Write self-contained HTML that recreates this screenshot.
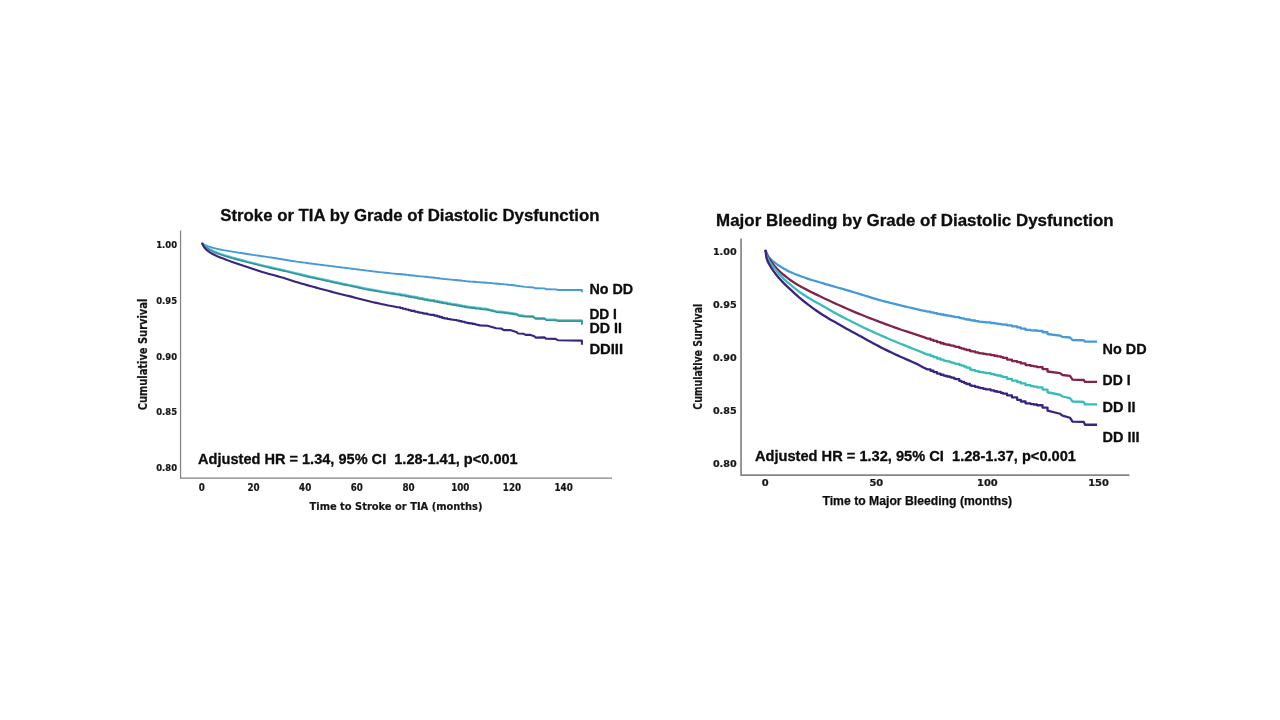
<!DOCTYPE html>
<html lang="en">
<head>
<meta charset="utf-8">
<title>Stroke or TIA and Major Bleeding by Grade of Diastolic Dysfunction</title>
<style>
html,body{margin:0;padding:0;background:#fff;}
body{width:1280px;height:720px;overflow:hidden;font-family:"Liberation Sans",sans-serif;}
svg{display:block;}
</style>
</head>
<body>
<svg width="1280" height="720" viewBox="0 0 1280 720">
<rect width="1280" height="720" fill="#ffffff"/>
<g fill="none" stroke="#828282" stroke-width="1.25">
<path d="M180.55 230.5 V478.05 H612"/>
</g>
<g fill="none" stroke="#868686" stroke-width="1.7">
<path d="M741.05 238.5 V475.05 H1129.5"/>
</g>
<polyline points="202.20,243.30 203.20,244.11 204.20,244.66 205.20,245.09 206.20,245.50 207.20,245.90 208.20,246.28 209.20,246.63 210.20,246.96 211.20,247.27 212.20,247.56 213.20,247.84 214.20,248.10 215.20,248.35 216.20,248.59 217.20,248.82 220.20,249.46 223.20,250.06 226.20,250.62 229.20,251.15 232.20,251.65 235.20,252.13 238.20,252.59 241.20,253.03 244.20,253.48 247.20,253.95 250.20,254.44 253.20,254.92 256.20,255.38 259.20,255.80 262.20,256.21 265.20,256.63 268.20,257.07 271.20,257.51 274.20,257.97 277.20,258.46 280.20,258.98 283.20,259.50 286.20,260.00 289.20,260.49 292.20,260.97 295.20,261.43 298.20,261.85 301.20,262.25 304.20,262.64 307.20,263.05 310.20,263.46 313.20,263.87 316.20,264.25 319.20,264.61 322.20,264.96 325.20,265.33 328.20,265.71 331.20,266.11 334.20,266.50 337.20,266.87 340.20,267.22 343.20,267.58 346.20,267.95 349.20,268.34 352.20,268.73 355.20,269.13 358.20,269.52 361.20,269.91 364.20,270.30 367.20,270.67 370.20,271.04 373.20,271.39 376.20,271.74 379.20,272.07 382.20,272.40 385.20,272.72 388.20,273.04 391.20,273.35 394.20,273.67 397.20,273.98 400.20,273.98 400.20,274.29 402.70,274.29 402.70,274.56 405.70,274.56 405.70,274.88 408.70,274.88 408.70,275.21 411.20,275.21 411.20,275.49 414.70,275.49 414.70,275.87 417.70,275.87 417.70,276.17 419.70,276.17 419.70,276.37 422.70,276.37 422.70,276.67 424.20,276.67 424.20,276.82 427.20,276.82 427.20,277.13 428.70,277.13 428.70,277.30 430.70,277.30 430.70,277.51 434.20,277.51 434.20,277.91 437.20,277.91 437.20,278.26 439.70,278.26 439.70,278.58 442.20,278.58 442.20,278.89 444.20,278.89 444.20,279.12 447.20,279.12 447.20,279.41 450.20,279.41 450.20,279.67 452.20,279.67 452.20,279.84 454.20,279.84 454.20,280.02 456.70,280.02 456.70,280.28 459.20,280.28 459.20,280.56 461.70,280.56 461.70,280.85 464.70,280.85 464.70,281.17 466.70,281.17 466.70,281.35 468.20,281.35 468.20,281.48 469.70,281.48 469.70,281.60 472.20,281.60 472.20,281.79 475.20,281.79 475.20,282.01 476.70,282.01 476.70,282.12 480.20,282.12 480.20,282.36 481.70,282.36 481.70,282.46 485.20,282.46 485.20,282.72 487.20,282.72 487.20,282.88 490.20,282.88 490.20,283.15 492.20,283.15 492.20,283.34 494.20,283.34 494.20,283.53 496.20,283.53 496.20,283.71 499.20,283.71 499.20,283.97 501.20,283.97 501.20,284.15 503.70,284.15 503.70,284.38 507.20,284.38 507.20,284.71 508.70,284.71 508.70,284.86 510.20,284.86 510.20,285.01 512.70,285.01 512.70,285.26 514.70,285.26 514.70,285.47 515.00,285.47 515.00,285.50 525.00,286.90 533.75,287.50 535.60,288.30 544.40,288.40 546.25,289.25 555.60,289.40 558.10,290.00 581.90,290.00 581.90,292.20" fill="none" stroke="#479ad6" stroke-width="1.9" stroke-linejoin="round" stroke-linecap="butt"/>
<polyline points="202.20,242.85 203.20,244.04 204.20,245.00 205.20,245.81 206.20,246.58 207.20,247.32 208.20,248.01 209.20,248.67 210.20,249.27 211.20,249.82 212.20,250.35 213.20,250.84 214.20,251.30 215.20,251.73 216.20,252.15 217.20,252.55 220.20,253.65 223.20,254.67 226.20,255.63 229.20,256.53 232.20,257.37 235.20,258.21 238.20,259.02 241.20,259.81 244.20,260.59 247.20,261.36 250.20,262.11 253.20,262.85 256.20,263.60 259.20,264.36 262.20,265.11 265.20,265.85 268.20,266.57 271.20,267.27 274.20,267.97 277.20,268.64 280.20,269.29 283.20,269.94 286.20,270.63 289.20,271.36 292.20,272.11 295.20,272.85 298.20,273.59 301.20,274.34 304.20,275.06 307.20,275.75 310.20,276.41 313.20,277.06 316.20,277.71 319.20,278.37 322.20,279.03 325.20,279.69 328.20,280.35 331.20,281.01 334.20,281.67 337.20,282.34 340.20,283.01 343.20,283.67 346.20,284.30 349.20,284.89 352.20,285.48 355.20,286.09 358.20,286.75 361.20,287.44 364.20,288.09 367.20,288.67 370.20,289.21 373.20,289.73 376.20,290.27 379.20,290.82 382.20,291.36 385.20,291.88 388.20,292.37 391.20,292.83 394.20,293.31 397.20,293.84 400.20,293.84 400.20,294.40 402.70,294.40 402.70,294.87 405.70,294.87 405.70,295.43 408.70,295.43 408.70,295.98 411.20,295.98 411.20,296.44 414.70,296.44 414.70,297.09 417.70,297.09 417.70,297.66 419.70,297.66 419.70,298.05 422.70,298.05 422.70,298.62 424.20,298.62 424.20,298.90 427.20,298.90 427.20,299.45 428.70,299.45 428.70,299.72 430.70,299.72 430.70,300.07 434.20,300.07 434.20,300.70 437.20,300.70 437.20,301.27 439.70,301.27 439.70,301.75 442.20,301.75 442.20,302.23 444.20,302.23 444.20,302.60 447.20,302.60 447.20,303.13 450.20,303.13 450.20,303.64 452.20,303.64 452.20,303.97 454.20,303.97 454.20,304.31 456.70,304.31 456.70,304.76 459.20,304.76 459.20,305.22 461.70,305.22 461.70,305.69 464.70,305.69 464.70,306.20 466.70,306.20 466.70,306.51 468.20,306.51 468.20,306.74 469.70,306.74 469.70,306.95 472.20,306.95 472.20,307.30 475.20,307.30 475.20,307.67 476.70,307.67 476.70,307.85 480.20,307.85 480.20,308.24 481.70,308.24 481.70,308.40 485.20,308.40 485.20,308.75 487.20,308.75 487.20,308.92 487.50,308.92 487.50,308.95 496.25,311.15 502.50,311.80 510.00,312.75 516.25,313.65 518.75,314.95 525.00,315.65 533.00,316.05 535.60,317.95 544.40,317.95 546.25,319.25 555.60,319.45 558.10,320.15 581.90,320.15 581.90,323.95" fill="none" stroke="#52c6d0" stroke-width="2.0" stroke-linejoin="round" stroke-linecap="butt"/>
<polyline points="202.20,243.75 203.20,244.94 204.20,245.90 205.20,246.71 206.20,247.48 207.20,248.22 208.20,248.91 209.20,249.57 210.20,250.17 211.20,250.72 212.20,251.25 213.20,251.74 214.20,252.20 215.20,252.63 216.20,253.05 217.20,253.45 220.20,254.55 223.20,255.57 226.20,256.53 229.20,257.43 232.20,258.27 235.20,259.11 238.20,259.92 241.20,260.71 244.20,261.49 247.20,262.26 250.20,263.01 253.20,263.75 256.20,264.50 259.20,265.26 262.20,266.01 265.20,266.75 268.20,267.47 271.20,268.17 274.20,268.87 277.20,269.54 280.20,270.19 283.20,270.84 286.20,271.53 289.20,272.26 292.20,273.01 295.20,273.75 298.20,274.49 301.20,275.24 304.20,275.96 307.20,276.65 310.20,277.31 313.20,277.96 316.20,278.61 319.20,279.27 322.20,279.93 325.20,280.59 328.20,281.25 331.20,281.91 334.20,282.57 337.20,283.24 340.20,283.91 343.20,284.57 346.20,285.20 349.20,285.79 352.20,286.38 355.20,286.99 358.20,287.65 361.20,288.34 364.20,288.99 367.20,289.57 370.20,290.11 373.20,290.63 376.20,291.17 379.20,291.72 382.20,292.26 385.20,292.78 388.20,293.27 391.20,293.73 394.20,294.21 397.20,294.74 400.20,294.74 400.20,295.30 402.70,295.30 402.70,295.77 405.70,295.77 405.70,296.33 408.70,296.33 408.70,296.88 411.20,296.88 411.20,297.34 414.70,297.34 414.70,297.99 417.70,297.99 417.70,298.56 419.70,298.56 419.70,298.95 422.70,298.95 422.70,299.52 424.20,299.52 424.20,299.80 427.20,299.80 427.20,300.35 428.70,300.35 428.70,300.62 430.70,300.62 430.70,300.97 434.20,300.97 434.20,301.60 437.20,301.60 437.20,302.17 439.70,302.17 439.70,302.65 442.20,302.65 442.20,303.13 444.20,303.13 444.20,303.50 447.20,303.50 447.20,304.03 450.20,304.03 450.20,304.54 452.20,304.54 452.20,304.87 454.20,304.87 454.20,305.21 456.70,305.21 456.70,305.66 459.20,305.66 459.20,306.12 461.70,306.12 461.70,306.59 464.70,306.59 464.70,307.10 466.70,307.10 466.70,307.41 468.20,307.41 468.20,307.64 469.70,307.64 469.70,307.85 472.20,307.85 472.20,308.20 475.20,308.20 475.20,308.57 476.70,308.57 476.70,308.75 480.20,308.75 480.20,309.14 481.70,309.14 481.70,309.30 485.20,309.30 485.20,309.65 487.20,309.65 487.20,309.82 487.50,309.82 487.50,309.85 496.25,312.05 502.50,312.70 510.00,313.65 516.25,314.55 518.75,315.85 525.00,316.55 533.00,316.95 535.60,318.85 544.40,318.85 546.25,320.15 555.60,320.35 558.10,321.05 581.90,321.05 581.90,324.85" fill="none" stroke="#35929a" stroke-width="1.7" stroke-linejoin="round" stroke-linecap="butt"/>
<polyline points="202.20,243.30 203.20,245.60 204.20,247.27 205.20,248.52 206.20,249.52 207.20,250.39 208.20,251.16 209.20,251.86 210.20,252.53 211.20,253.16 212.20,253.75 213.20,254.30 214.20,254.81 215.20,255.30 216.20,255.76 217.20,256.20 220.20,257.41 223.20,258.56 226.20,259.72 229.20,260.87 232.20,262.00 235.20,263.07 238.20,264.07 241.20,265.03 244.20,265.99 247.20,266.98 250.20,268.00 253.20,269.00 256.20,269.99 259.20,270.98 262.20,271.95 265.20,272.86 268.20,273.69 271.20,274.48 274.20,275.28 277.20,276.12 280.20,276.98 283.20,277.86 286.20,278.77 289.20,279.74 292.20,280.72 295.20,281.66 298.20,282.55 301.20,283.42 304.20,284.27 307.20,285.12 310.20,285.97 313.20,286.80 316.20,287.63 319.20,288.45 322.20,289.25 325.20,290.05 328.20,290.84 331.20,291.62 334.20,292.40 337.20,293.16 340.20,293.91 343.20,294.65 346.20,295.40 349.20,296.14 352.20,296.89 355.20,297.65 358.20,298.46 361.20,299.30 364.20,300.10 367.20,300.83 370.20,301.52 373.20,302.20 376.20,302.87 379.20,303.55 382.20,304.21 385.20,304.84 388.20,305.41 391.20,305.95 394.20,306.53 397.20,307.22 400.20,307.22 400.20,308.01 402.70,308.01 402.70,308.69 405.70,308.69 405.70,309.48 408.70,309.48 408.70,310.26 411.20,310.26 411.20,310.89 414.70,310.89 414.70,311.73 417.70,311.73 417.70,312.37 419.70,312.37 419.70,312.77 422.70,312.77 422.70,313.35 424.20,313.35 424.20,313.64 427.20,313.64 427.20,314.23 428.70,314.23 428.70,314.51 430.70,314.51 430.70,314.89 434.20,314.89 434.20,315.62 437.20,315.62 437.20,316.38 439.70,316.38 439.70,317.14 442.20,317.14 442.20,317.90 444.20,317.90 444.20,318.42 447.20,318.42 447.20,319.00 450.20,319.00 450.20,319.45 452.20,319.45 452.20,319.73 454.20,319.73 454.20,320.06 456.70,320.06 456.70,320.55 459.20,320.55 459.20,321.14 461.70,321.14 461.70,321.75 464.70,321.75 464.70,322.44 466.70,322.44 466.70,322.84 468.20,322.84 468.20,323.13 469.70,323.13 469.70,323.40 472.20,323.40 472.20,323.84 475.00,323.84 475.00,324.30 480.00,325.40 487.50,325.70 496.25,328.20 501.25,328.50 503.75,330.10 510.00,330.10 516.25,331.90 518.10,333.50 523.75,333.80 525.60,334.90 530.60,334.90 534.40,336.30 535.60,337.60 544.40,337.40 546.25,338.80 555.60,338.90 558.10,340.30 581.90,340.60 581.90,344.75" fill="none" stroke="#3a2482" stroke-width="2.1" stroke-linejoin="round" stroke-linecap="butt"/>
<polyline points="765.50,250.30 766.50,252.76 767.50,254.80 768.50,256.44 769.50,257.81 770.50,258.94 771.50,259.93 772.50,260.82 773.50,261.63 774.50,262.41 775.50,263.18 776.50,263.92 777.50,264.62 778.50,265.29 779.50,265.93 780.50,266.56 783.50,268.40 786.50,270.12 789.50,271.66 792.50,273.01 795.50,274.21 798.50,275.34 801.50,276.46 804.50,277.54 807.50,278.57 810.50,279.56 813.50,280.48 816.50,281.37 819.50,282.25 822.50,283.15 825.50,284.06 828.50,284.96 831.50,285.83 834.50,286.67 837.50,287.50 840.50,288.34 843.50,289.21 846.50,290.09 849.50,290.97 852.50,291.86 855.50,292.75 858.50,293.65 861.50,294.55 864.50,295.48 867.50,296.42 870.50,297.36 873.50,298.29 876.50,299.19 879.50,300.06 882.50,300.88 885.50,301.68 888.50,302.46 891.50,303.22 894.50,303.96 897.50,304.70 900.50,305.42 903.50,306.13 906.50,306.82 909.50,307.50 912.50,308.18 915.50,308.86 918.50,309.56 921.50,310.27 924.50,310.99 927.50,311.70 930.50,311.70 930.50,312.39 933.50,312.39 933.50,313.06 937.00,313.06 937.00,313.81 940.52,313.81 940.52,314.50 943.56,314.50 943.56,315.02 945.09,315.02 945.09,315.27 947.14,315.27 947.14,315.59 949.72,315.59 949.72,316.01 951.28,316.01 951.28,316.28 953.91,316.28 953.91,316.78 955.50,316.78 955.50,317.11 959.25,317.11 959.25,317.95 961.43,317.95 961.43,318.44 964.20,318.44 964.20,319.04 966.45,319.04 966.45,319.49 969.89,319.49 969.89,320.18 971.65,320.18 971.65,320.52 975.21,320.52 975.21,321.15 978.27,321.15 978.27,321.60 980.15,321.60 980.15,321.84 983.33,321.84 983.33,322.18 985.95,322.18 985.95,322.45 990.64,322.45 990.64,322.98 994.14,322.98 994.14,323.41 997.03,323.41 997.03,323.79 1000.75,323.79 1000.75,324.32 1003.07,324.32 1003.07,324.69 1007.02,324.69 1007.02,325.37 1011.95,325.37 1011.95,326.32 1017.14,326.32 1017.14,327.47 1020.79,327.47 1020.79,328.62 1025.53,328.62 1025.53,329.90 1030.51,329.90 1030.51,330.30 1033.65,330.30 1033.65,330.48 1036.90,330.48 1036.90,330.86 1042.51,330.86 1042.51,332.23 1047.50,332.23 1047.50,334.00 1060.00,335.60 1062.50,336.90 1070.00,337.50 1072.50,340.00 1083.75,340.25 1085.00,341.60 1097.10,341.60" fill="none" stroke="#479ad6" stroke-width="2.3" stroke-linejoin="round" stroke-linecap="butt"/>
<polyline points="765.50,250.30 766.50,253.48 767.50,256.00 768.50,257.81 769.50,259.29 770.50,260.72 771.50,262.11 772.50,263.43 773.50,264.70 774.50,265.92 775.50,267.07 776.50,268.18 777.50,269.23 778.50,270.25 779.50,271.23 780.50,272.17 783.50,274.77 786.50,277.19 789.50,279.44 792.50,281.50 795.50,283.41 798.50,285.23 801.50,286.94 804.50,288.56 807.50,290.12 810.50,291.65 813.50,293.15 816.50,294.62 819.50,296.06 822.50,297.49 825.50,298.92 828.50,300.33 831.50,301.73 834.50,303.11 837.50,304.48 840.50,305.82 843.50,307.16 846.50,308.47 849.50,309.78 852.50,311.07 855.50,312.33 858.50,313.58 861.50,314.81 864.50,316.02 867.50,317.20 870.50,318.37 873.50,319.53 876.50,320.68 879.50,321.81 882.50,322.94 885.50,324.07 888.50,325.18 891.50,326.28 894.50,327.37 897.50,328.43 900.50,329.47 903.50,330.47 906.50,331.44 909.50,332.39 912.50,333.34 915.50,334.30 918.50,335.29 921.50,336.33 924.50,337.45 927.50,338.63 930.50,338.63 930.50,339.81 933.50,339.81 933.50,340.95 937.00,340.95 937.00,342.19 940.52,342.19 940.52,343.24 943.56,343.24 943.56,343.99 945.09,343.99 945.09,344.33 947.14,344.33 947.14,344.77 949.72,344.77 949.72,345.34 951.28,345.34 951.28,345.70 953.91,345.70 953.91,346.37 955.50,346.37 955.50,346.82 959.25,346.82 959.25,347.92 961.43,347.92 961.43,348.57 964.20,348.57 964.20,349.38 966.45,349.38 966.45,350.01 969.89,350.01 969.89,350.98 971.65,350.98 971.65,351.47 975.21,351.47 975.21,352.39 978.27,352.39 978.27,353.05 980.15,353.05 980.15,353.40 983.33,353.40 983.33,353.92 985.95,353.92 985.95,354.32 990.64,354.32 990.64,355.12 994.14,355.12 994.14,355.75 997.03,355.75 997.03,356.31 1000.75,356.31 1000.75,357.17 1003.07,357.17 1003.07,357.89 1007.02,357.89 1007.02,359.55 1011.95,359.55 1011.95,361.04 1017.14,361.04 1017.14,362.15 1020.79,362.15 1020.79,363.45 1025.53,363.45 1025.53,365.08 1030.51,365.08 1030.51,365.90 1033.65,365.90 1033.65,366.34 1036.90,366.34 1036.90,367.07 1042.51,367.07 1042.51,369.08 1047.50,369.08 1047.50,371.50 1060.00,373.10 1062.50,375.00 1070.00,375.90 1072.50,379.60 1083.75,380.00 1085.00,381.90 1097.10,381.90" fill="none" stroke="#81234b" stroke-width="2.3" stroke-linejoin="round" stroke-linecap="butt"/>
<polyline points="765.50,250.30 766.50,254.33 767.50,257.50 768.50,259.81 769.50,261.67 770.50,263.28 771.50,264.70 772.50,265.98 773.50,267.19 774.50,268.39 775.50,269.62 776.50,270.87 777.50,272.10 778.50,273.30 779.50,274.45 780.50,275.54 783.50,278.58 786.50,281.37 789.50,283.98 792.50,286.43 795.50,288.80 798.50,291.19 801.50,293.33 804.50,295.30 807.50,297.15 810.50,298.94 813.50,300.67 816.50,302.39 819.50,304.11 822.50,305.85 825.50,307.57 828.50,309.28 831.50,310.96 834.50,312.62 837.50,314.26 840.50,315.87 843.50,317.46 846.50,319.02 849.50,320.57 852.50,322.09 855.50,323.59 858.50,325.07 861.50,326.52 864.50,327.95 867.50,329.35 870.50,330.73 873.50,332.10 876.50,333.45 879.50,334.78 882.50,336.10 885.50,337.40 888.50,338.69 891.50,339.96 894.50,341.22 897.50,342.47 900.50,343.71 903.50,344.93 906.50,346.14 909.50,347.33 912.50,348.52 915.50,349.71 918.50,350.90 921.50,352.11 924.50,353.36 927.50,354.64 930.50,354.64 930.50,355.91 933.50,355.91 933.50,357.14 937.00,357.14 937.00,358.48 940.52,358.48 940.52,359.66 943.56,359.66 943.56,360.54 945.09,360.54 945.09,360.94 947.14,360.94 947.14,361.46 949.72,361.46 949.72,362.12 951.28,362.12 951.28,362.55 953.91,362.55 953.91,363.32 955.50,363.32 955.50,363.80 959.25,363.80 959.25,364.97 961.43,364.97 961.43,365.70 964.20,365.70 964.20,366.70 966.45,366.70 966.45,367.63 969.89,367.63 969.89,369.35 971.65,369.35 971.65,370.11 975.21,370.11 975.21,371.10 978.27,371.10 978.27,371.73 980.15,371.73 980.15,372.08 983.33,372.08 983.33,372.66 985.95,372.66 985.95,373.20 990.64,373.20 990.64,374.14 994.14,374.14 994.14,374.86 997.03,374.86 997.03,375.50 1000.75,375.50 1000.75,376.46 1003.07,376.46 1003.07,377.21 1007.02,377.21 1007.02,378.87 1011.95,378.87 1011.95,380.56 1017.14,380.56 1017.14,382.00 1020.79,382.00 1020.79,383.47 1025.53,383.47 1025.53,385.22 1030.51,385.22 1030.51,386.08 1033.65,386.08 1033.65,386.53 1036.90,386.53 1036.90,387.31 1042.51,387.31 1042.51,389.53 1047.50,389.53 1047.50,392.25 1060.00,394.75 1062.50,396.50 1070.00,398.10 1072.50,401.50 1083.75,401.90 1085.00,404.40 1097.10,404.40" fill="none" stroke="#38bcba" stroke-width="2.3" stroke-linejoin="round" stroke-linecap="butt"/>
<polyline points="765.50,250.30 766.50,257.90 767.50,260.99 768.50,263.06 769.50,264.73 770.50,266.50 771.50,268.15 772.50,269.67 773.50,271.08 774.50,272.43 775.50,273.76 776.50,275.02 777.50,276.23 778.50,277.40 779.50,278.54 780.50,279.66 783.50,282.88 786.50,285.86 789.50,288.64 792.50,291.42 795.50,294.17 798.50,296.83 801.50,299.33 804.50,301.75 807.50,304.10 810.50,306.38 813.50,308.59 816.50,310.72 819.50,312.77 822.50,314.73 825.50,316.60 828.50,318.40 831.50,320.15 834.50,321.87 837.50,323.58 840.50,325.29 843.50,326.98 846.50,328.64 849.50,330.29 852.50,331.92 855.50,333.55 858.50,335.18 861.50,336.82 864.50,338.49 867.50,340.16 870.50,341.82 873.50,343.46 876.50,345.08 879.50,346.64 882.50,348.16 885.50,349.65 888.50,351.11 891.50,352.54 894.50,353.96 897.50,355.35 900.50,356.73 903.50,358.06 906.50,359.35 909.50,360.64 912.50,361.95 915.50,363.34 918.50,364.84 921.50,366.40 924.50,367.95 927.50,369.40 930.50,369.40 930.50,370.76 933.50,370.76 933.50,372.09 937.00,372.09 937.00,373.53 940.52,373.53 940.52,374.77 943.56,374.77 943.56,375.62 945.09,375.62 945.09,376.00 947.14,376.00 947.14,376.50 949.72,376.50 949.72,377.16 951.28,377.16 951.28,377.61 953.91,377.61 953.91,378.53 955.50,378.53 955.50,379.21 959.25,379.21 959.25,380.93 961.43,380.93 961.43,381.85 964.20,381.85 964.20,383.04 966.45,383.04 966.45,383.99 969.89,383.99 969.89,385.33 971.65,385.33 971.65,385.93 975.21,385.93 975.21,386.95 978.27,386.95 978.27,387.68 980.15,387.68 980.15,388.10 983.33,388.10 983.33,388.81 985.95,388.81 985.95,389.42 990.64,389.42 990.64,390.47 994.14,390.47 994.14,391.24 997.03,391.24 997.03,391.93 1000.75,391.93 1000.75,392.95 1003.07,392.95 1003.07,393.71 1007.02,393.71 1007.02,395.31 1011.95,395.31 1011.95,397.46 1017.14,397.46 1017.14,399.79 1020.79,399.79 1020.79,401.51 1025.53,401.51 1025.53,403.33 1030.51,403.33 1030.51,404.11 1033.65,404.11 1033.65,404.50 1036.90,404.50 1036.90,405.24 1042.51,405.24 1042.51,407.61 1047.50,407.61 1047.50,410.60 1060.00,413.75 1062.50,415.60 1070.00,417.75 1072.50,421.60 1083.75,421.90 1085.00,424.75 1097.10,424.75" fill="none" stroke="#3a2482" stroke-width="2.3" stroke-linejoin="round" stroke-linecap="butt"/>
<circle cx="765.5" cy="250.60000000000002" r="1.15" fill="#3a2482"/>
<circle cx="202.2" cy="243.60000000000002" r="1.05" fill="#3a2482"/>
<g font-family="'Liberation Sans', sans-serif" font-weight="bold" fill="#0d0d0d" stroke="#0d0d0d" stroke-width="0.3" stroke-linejoin="round">
<text x="220.2" y="220.7" font-size="16.7" textLength="379.3" lengthAdjust="spacingAndGlyphs">Stroke or TIA by Grade of Diastolic Dysfunction</text>
<text x="716.1" y="225.5" font-size="16.7" textLength="397.6" lengthAdjust="spacingAndGlyphs">Major Bleeding by Grade of Diastolic Dysfunction</text>
<text x="198.1" y="463.8" font-size="14.6" textLength="319.6" lengthAdjust="spacingAndGlyphs" xml:space="preserve">Adjusted HR = 1.34, 95% CI  1.28-1.41, p&lt;0.001</text>
<text x="755" y="460.5" font-size="14.6" textLength="321" lengthAdjust="spacingAndGlyphs" xml:space="preserve">Adjusted HR = 1.32, 95% CI  1.28-1.37, p&lt;0.001</text>
<text x="589.4" y="294.3" font-size="14" textLength="43.7" lengthAdjust="spacingAndGlyphs">No DD</text>
<text x="589.4" y="318.8" font-size="14" textLength="27.5" lengthAdjust="spacingAndGlyphs">DD I</text>
<text x="589.4" y="333.3" font-size="14" textLength="32.5" lengthAdjust="spacingAndGlyphs">DD II</text>
<text x="589.4" y="354.4" font-size="14" textLength="33.7" lengthAdjust="spacingAndGlyphs">DDIII</text>
<text x="1102.6" y="353.6" font-size="14" textLength="44" lengthAdjust="spacingAndGlyphs">No DD</text>
<text x="1102.6" y="385.4" font-size="14" textLength="28" lengthAdjust="spacingAndGlyphs">DD I</text>
<text x="1102.6" y="411.6" font-size="14" textLength="33" lengthAdjust="spacingAndGlyphs">DD II</text>
<text x="1102.6" y="441.6" font-size="14" textLength="37" lengthAdjust="spacingAndGlyphs">DD III</text>
</g>
<g font-family="'DejaVu Sans Condensed', 'DejaVu Sans', 'Liberation Sans', sans-serif" font-weight="bold" fill="#161616" stroke="#161616" stroke-width="0.2" font-size="9.4" text-anchor="end">
<text x="177.0" y="247.95">1.00</text>
<text x="177.0" y="303.75">0.95</text>
<text x="177.0" y="359.55">0.90</text>
<text x="177.0" y="415.35">0.85</text>
<text x="177.0" y="471.15">0.80</text>
</g>
<g font-family="'DejaVu Sans Condensed', 'DejaVu Sans', 'Liberation Sans', sans-serif" font-weight="bold" fill="#161616" stroke="#161616" stroke-width="0.2" font-size="9.7" text-anchor="middle">
<text x="201.75" y="490.7">0</text>
<text x="253.45" y="490.7">20</text>
<text x="305.15" y="490.7">40</text>
<text x="356.85" y="490.7">60</text>
<text x="408.55" y="490.7">80</text>
<text x="460.25" y="490.7">100</text>
<text x="511.95" y="490.7">120</text>
<text x="563.65" y="490.7">140</text>
</g>
<g font-family="'DejaVu Sans', 'Liberation Sans', sans-serif" font-weight="bold" fill="#161616" stroke="#161616" stroke-width="0.2" font-size="8.4">
<text x="712.9" y="254.75" textLength="23.7" lengthAdjust="spacingAndGlyphs">1.00</text>
<text x="712.9" y="307.91" textLength="23.7" lengthAdjust="spacingAndGlyphs">0.95</text>
<text x="712.9" y="361.07" textLength="23.7" lengthAdjust="spacingAndGlyphs">0.90</text>
<text x="712.9" y="414.23" textLength="23.7" lengthAdjust="spacingAndGlyphs">0.85</text>
<text x="712.9" y="467.39" textLength="23.7" lengthAdjust="spacingAndGlyphs">0.80</text>
<text x="761.75" y="486.2" textLength="6.9" lengthAdjust="spacingAndGlyphs">0</text>
<text x="869.40" y="486.2" textLength="13.8" lengthAdjust="spacingAndGlyphs">50</text>
<text x="977.05" y="486.2" textLength="20.7" lengthAdjust="spacingAndGlyphs">100</text>
<text x="1088.15" y="486.2" textLength="20.7" lengthAdjust="spacingAndGlyphs">150</text>
</g>
<g font-family="'DejaVu Sans Condensed', 'DejaVu Sans', 'Liberation Sans', sans-serif" font-weight="bold" fill="#161616" stroke="#161616" stroke-width="0.2">
<text x="309.5" y="510.4" font-size="11.3" textLength="173" lengthAdjust="spacingAndGlyphs">Time to Stroke or TIA (months)</text>
<text transform="translate(146.7 410.3) rotate(-90)" font-size="12" textLength="111.6" lengthAdjust="spacingAndGlyphs">Cumulative Survival</text>
<text transform="translate(702 409.7) rotate(-90)" font-size="12.3" textLength="105.9" lengthAdjust="spacingAndGlyphs">Cumulative Survival</text>
</g>
<g font-family="'Liberation Sans', sans-serif" font-weight="bold" fill="#0d0d0d" stroke="#0d0d0d" stroke-width="0.25" stroke-linejoin="round">
<text x="822.5" y="505.4" font-size="12.9" textLength="189.6" lengthAdjust="spacingAndGlyphs">Time to Major Bleeding (months)</text>
</g>
</svg>
</body>
</html>
